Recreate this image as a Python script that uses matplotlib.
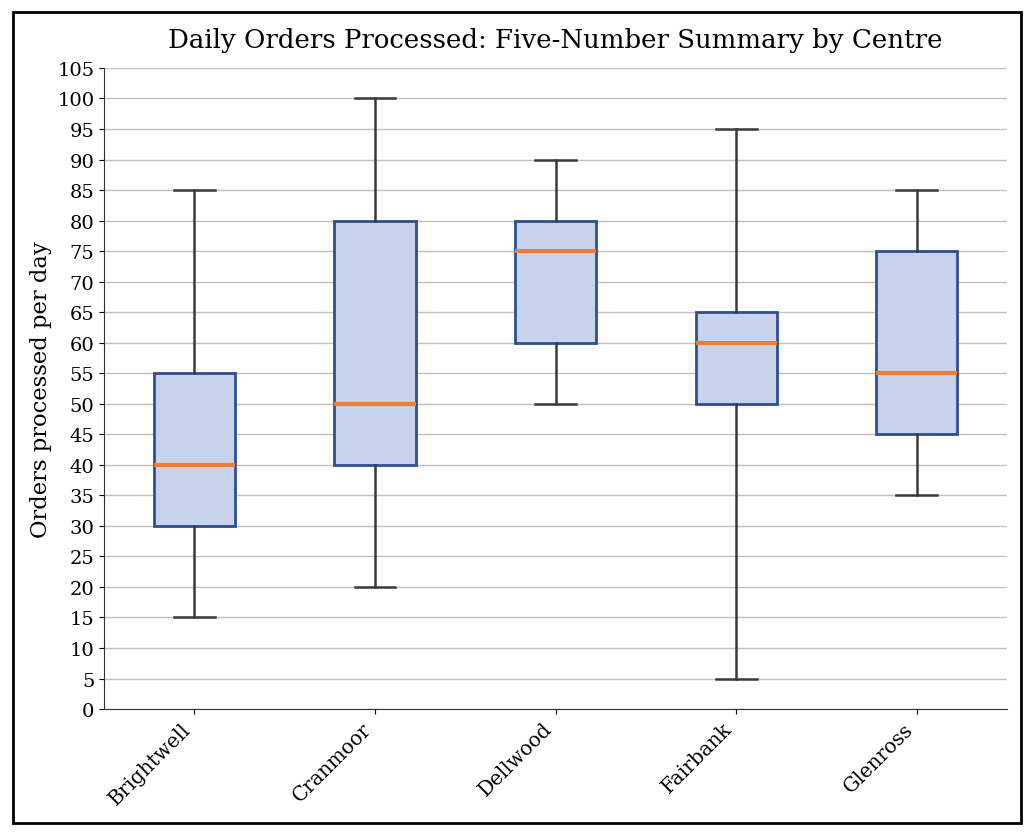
import matplotlib
matplotlib.use("Agg")
import matplotlib.pyplot as plt
from matplotlib.patches import Rectangle

centres = ["Brightwell", "Cranmoor", "Dellwood", "Fairbank", "Glenross"]
mins = [15, 20, 50, 5, 35]
q1s = [30, 40, 60, 50, 45]
medians = [40, 50, 75, 60, 55]
q3s = [55, 80, 80, 65, 75]
maxs = [85, 100, 90, 95, 85]

plt.rcParams['font.family'] = ['DejaVu Serif']

fig = plt.figure(figsize=(10.34, 8.37), dpi=100)
ax = fig.add_axes([0.1006, 0.1517, 0.8734, 0.7659])

stats = []
for name, lo, a, m, b, hi in zip(centres, mins, q1s, medians, q3s, maxs):
    stats.append(dict(label=name, whislo=lo, q1=a, med=m, q3=b, whishi=hi, fliers=[]))

ax.bxp(stats, positions=range(1, len(centres) + 1), widths=0.45, patch_artist=True,
       showfliers=False,
       boxprops=dict(facecolor="#c7d3ed", edgecolor="#2f4f8f", linewidth=2),
       medianprops=dict(color="#ed7d31", linewidth=3),
       whiskerprops=dict(color="#3a3a3a", linewidth=1.8),
       capprops=dict(color="#3a3a3a", linewidth=1.8),
       capwidths=0.225)

ax.set_xlim(0.5, 5.5)
ax.set_ylim(0, 105)
ax.set_yticks(range(0, 106, 5))
ax.yaxis.grid(True, color="#c0c0c0", linewidth=1)
ax.set_axisbelow(True)
ax.spines['top'].set_visible(False)
ax.spines['right'].set_visible(False)
ax.spines['left'].set_color("#333333")
ax.spines['bottom'].set_color("#333333")
ax.tick_params(axis='both', labelsize=14)
ax.tick_params(axis='x', labelsize=14.4)
ax.set_xticks(range(1, len(centres) + 1))
ax.set_xticklabels(centres, rotation=45, ha='right')
ax.set_ylabel("Orders processed per day", fontsize=16.3)
ax.set_title("Daily Orders Processed: Five-Number Summary by Centre", fontsize=18.7, pad=15)

fig.patches.append(Rectangle((13/1034, 13/837), 1 - 26/1034, 1 - 26/837,
                             transform=fig.transFigure, fill=False,
                             edgecolor="black", linewidth=2))

fig.savefig("out.png", dpi=100)
